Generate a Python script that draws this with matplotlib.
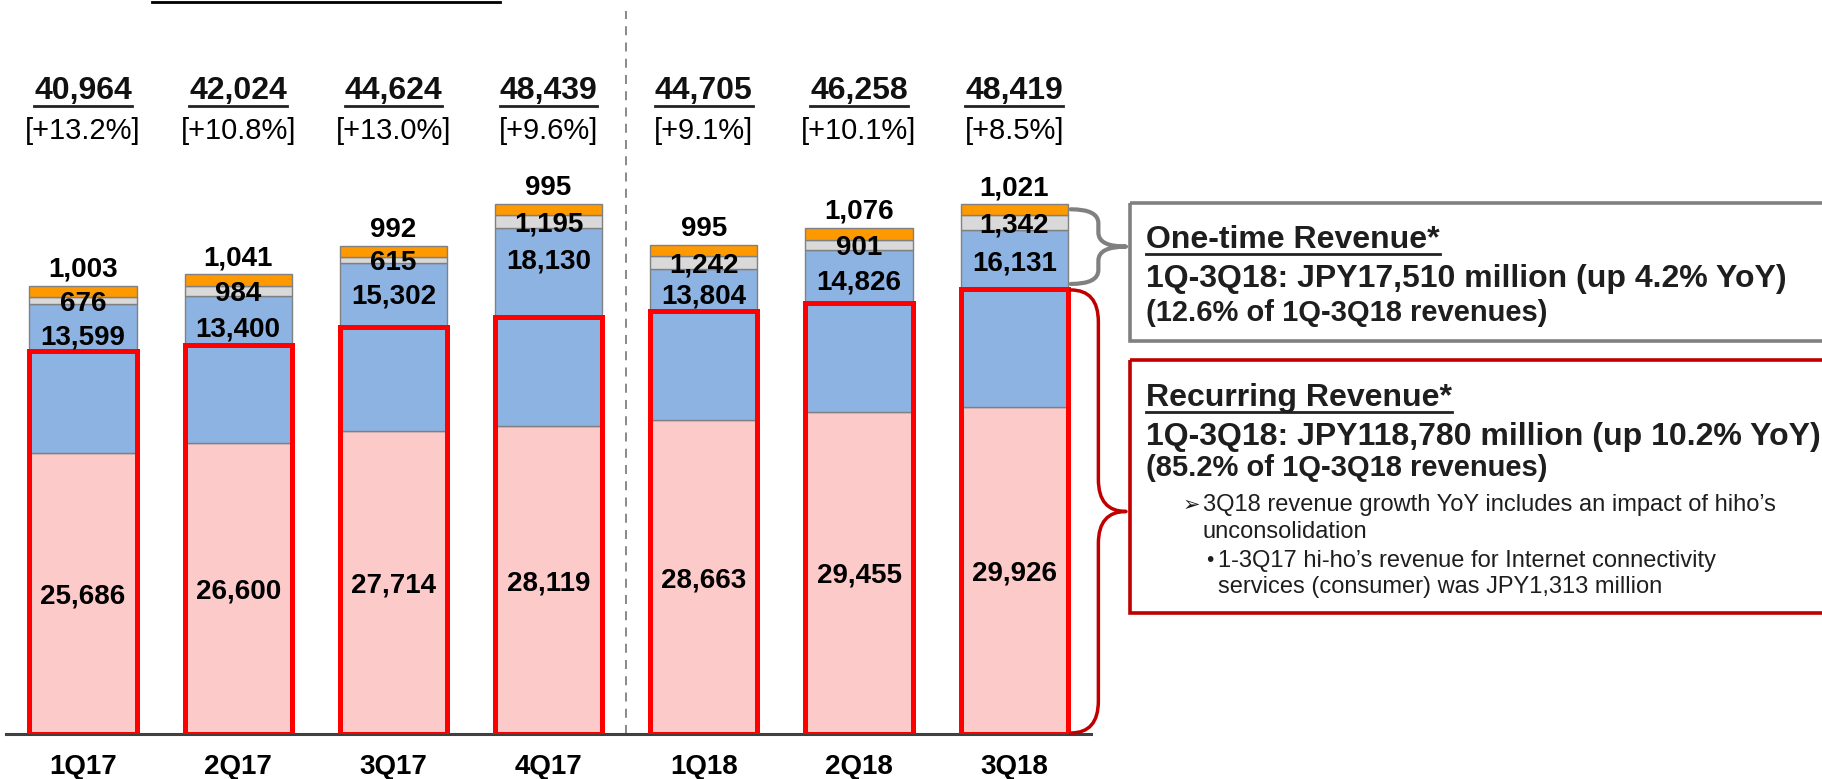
import numpy as np
import matplotlib.pyplot as plt
from matplotlib.patches import Rectangle, PathPatch
from matplotlib.path import Path

plt.rcParams['font.family'] = ['Liberation Sans', 'DejaVu Sans']

# data (JPY million)
quarters = ['1Q17', '2Q17', '3Q17', '4Q17', '1Q18', '2Q18', '3Q18']
base = [25686, 26600, 27714, 28119, 28663, 29455, 29926]      # pink
si = [13599, 13400, 15302, 18130, 13804, 14826, 16131]        # blue
equip = [676, 984, 615, 1195, 1242, 901, 1342]                # grey
other = [1003, 1041, 992, 995, 995, 1076, 1021]               # orange
recurring = [34980, 35600, 37200, 38140, 38700, 39400, 40680]
totals = ['40,964', '42,024', '44,624', '48,439', '44,705', '46,258', '48,419']
growth = ['[+13.2%]', '[+10.8%]', '[+13.0%]', '[+9.6%]', '[+9.1%]', '[+10.1%]', '[+8.5%]']

W, H = 1822, 779
PX = 0.01094          # pixels per JPY million
BASE_Y = 734          # baseline, px from top
X0, STEP = 83, 155.2  # first bar centre and spacing, px

fig = plt.figure(figsize=(W / 100, H / 100), dpi=100)
ax = fig.add_axes([6 / W, (H - BASE_Y) / H, (1091 - 6) / W, BASE_Y / H])
ax.set_xlim((6 - X0) / STEP, (1091 - X0) / STEP)
ax.set_ylim(0, BASE_Y / PX)
for s in ['top', 'left', 'right']:
    ax.spines[s].set_visible(False)
ax.spines['bottom'].set_color('#404040')
ax.spines['bottom'].set_linewidth(2.2)
ax.set_xticks([])
ax.set_yticks([])

# overlay in pixel coordinates for the side notes
ov = fig.add_axes([0, 0, 1, 1], zorder=5)
ov.set_xlim(0, W)
ov.set_ylim(H, 0)
ov.axis('off')
ov.patch.set_alpha(0)


def py(p):
    # pixel row (from top) -> data y of bar axes
    return (BASE_Y - p) / PX


x = np.arange(len(quarters))
bw = 0.69
edge = '#808080'
base_a = np.array(base)
si_a = np.array(si)
eq_a = np.array(equip)
ot_a = np.array(other)

ax.bar(x, base_a, bw, color='#FDCACA', edgecolor=edge, lw=1)
ax.bar(x, si_a, bw, bottom=base_a, color='#8DB3E2', edgecolor=edge, lw=1)
ax.bar(x, eq_a, bw, bottom=base_a + si_a, color='#D9D9D9', edgecolor=edge, lw=1)
ax.bar(x, ot_a, bw, bottom=base_a + si_a + eq_a, color='#FF9900', edgecolor=edge, lw=1)
top = base_a + si_a + eq_a + ot_a
ax.bar(x, recurring, bw, fill=False, edgecolor='#FF0000', lw=3.6, zorder=3)

ax.axvline(3.5, ymin=0, ymax=0.985, color='#808080', lw=1.3, ls=(0, (5, 4)))

lab = dict(ha='center', va='center_baseline', fontsize=20, fontweight='bold',
           color='black', zorder=4)
for i in range(len(x)):
    ax.text(x[i], base[i] / 2, f'{base[i]:,}', **lab)
    # blue label sits near the top of the blue block, kept above the red frame
    y_si = max(base[i] + si[i] - 30 / PX, recurring[i] + 17 / PX)
    ax.text(x[i], y_si, f'{si[i]:,}', **lab)
    ax.text(x[i], base[i] + si[i] + equip[i] / 2, f'{equip[i]:,}', **lab)
    ax.annotate(f'{other[i]:,}', (x[i], top[i]), xytext=(0, 6.5), textcoords='offset points',
                ha='center', va='baseline', fontsize=20, fontweight='bold')
    ax.text(x[i], py(764), quarters[i], ha='center', va='center_baseline', fontsize=20,
            fontweight='bold', clip_on=False)
    ax.text(x[i], py(128), growth[i], ha='center', va='center_baseline', fontsize=21,
            clip_on=False)

tot_txt = [ax.text(x[i], py(88), totals[i], ha='center', va='center_baseline', fontsize=23,
                   fontweight='bold', color='#111111', clip_on=False) for i in range(len(x))]

# side notes
ov.add_patch(Rectangle((1130, 203), 760, 138, fill=False, edgecolor='#808080', lw=2.6))
ov.add_patch(Rectangle((1130, 360), 760, 253, fill=False, edgecolor='#C00000', lw=2.6))

tc = '#1e1e1e'
cb = 'center_baseline'
h1 = ov.text(1146, 236, 'One-time Revenue*', fontsize=23, fontweight='bold', va=cb, color=tc)
ov.text(1146, 275, '1Q-3Q18: JPY17,510 million (up 4.2% YoY)', fontsize=23,
        fontweight='bold', va=cb, color=tc)
ov.text(1146, 310, '(12.6% of 1Q-3Q18 revenues)', fontsize=21, fontweight='bold',
        va=cb, color=tc)
h2 = ov.text(1146, 394, 'Recurring Revenue*', fontsize=23, fontweight='bold', va=cb, color=tc)
ov.text(1146, 433, '1Q-3Q18: JPY118,780 million (up 10.2% YoY)', fontsize=23,
        fontweight='bold', va=cb, color=tc)
ov.text(1146, 465, '(85.2% of 1Q-3Q18 revenues)', fontsize=21, fontweight='bold',
        va=cb, color=tc)
ov.text(1183, 503, '\u27a2', fontsize=15, va=cb, color=tc, family=['DejaVu Sans'])
ov.text(1203, 503, '3Q18 revenue growth YoY includes an impact of hiho\u2019s', fontsize=17,
        va=cb, color=tc)
ov.text(1203, 530, 'unconsolidation', fontsize=17, va=cb, color=tc)
ov.text(1206, 558, '\u2022', fontsize=15, va=cb, color=tc)
ov.text(1218, 558, '1-3Q17 hi-ho\u2019s revenue for Internet connectivity', fontsize=17,
        va=cb, color=tc)
ov.text(1218, 584, 'services (consumer) was JPY1,313 million', fontsize=17, va=cb, color=tc)

# cut-off heading underline at the very top
ov.plot([152, 500], [1.5, 1.5], color='black', lw=2)


def to_px(xd, yd):
    d = ax.transData.transform((xd, yd))
    return d[0], H - d[1]


def brace(xl, xr, ytop, ybot, color, lw, r):
    xm = (xl + xr) / 2
    ym = (ytop + ybot) / 2
    verts = [(xl, ytop), (xm, ytop), (xm, ytop + r), (xm, ym - r), (xm, ym), (xr, ym),
             (xm, ym), (xm, ym + r), (xm, ybot - r), (xm, ybot), (xl, ybot)]
    codes = [Path.MOVETO, Path.CURVE3, Path.CURVE3, Path.LINETO, Path.CURVE3, Path.CURVE3,
             Path.CURVE3, Path.CURVE3, Path.LINETO, Path.CURVE3, Path.CURVE3]
    ov.add_patch(PathPatch(Path(verts, codes), fill=False, edgecolor=color, lw=lw,
                           capstyle='round', joinstyle='round'))


right_edge, _ = to_px(x[-1] + bw / 2, 0)
_, y_top = to_px(x[-1], top[-1])
_, y_rec = to_px(x[-1], recurring[-1])
brace(right_edge + 3, 1126, y_top + 5, y_rec - 5, '#808080', 3.0, 14)
brace(right_edge + 3, 1126, y_rec + 1, BASE_Y - 1, '#C00000', 2.5, 32)

# underlines
fig.canvas.draw()
rend = fig.canvas.get_renderer()
for t in tot_txt + [h1, h2]:
    bb = t.get_window_extent(rend)
    yy = H - bb.y0 - 1
    ov.plot([bb.x0, bb.x1], [yy, yy], color='#222222', lw=2)

fig.savefig('out.png', dpi=100)
